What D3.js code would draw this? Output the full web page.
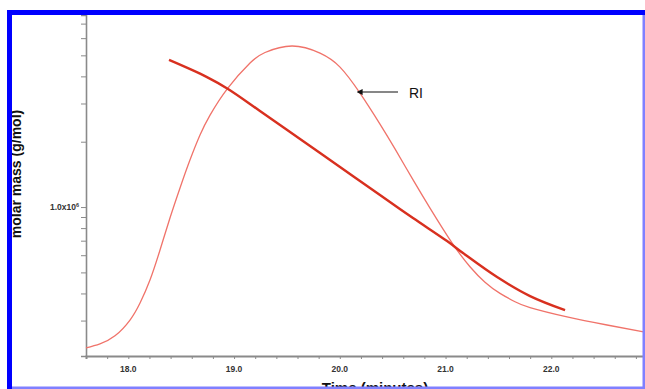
<!DOCTYPE html>
<html>
<head>
<meta charset="utf-8">
<script src="https://cdn.jsdelivr.net/npm/d3@7/dist/d3.min.js"></script>
<style>
  html, body { margin: 0; padding: 0; background: #fff; }
  svg { display: block; font-family: "Liberation Sans", Arial, sans-serif; }
</style>
</head>
<body>
<svg id="chart" width="645" height="389"></svg>
<script>
// RI detector trace (time in minutes, normalised signal 0-100)
const riTime = [17.600, 17.732, 17.874, 18.016, 18.111, 18.205, 18.300, 18.394, 18.489, 18.583, 18.678, 18.773, 18.943, 19.151, 19.293, 19.548, 19.813, 20.002, 20.191, 20.380, 20.522, 20.693, 20.853, 21.061, 21.231, 21.373, 21.515, 21.657, 21.799, 22.149, 22.527, 22.886];
const riSignal = [2.6, 3.9, 6.5, 11.6, 17.1, 24.5, 34.2, 44.5, 54.2, 63.2, 71.3, 77.7, 86.5, 94.5, 97.9, 100, 97.7, 93.2, 84.8, 74.8, 66.8, 56.8, 47.7, 36.5, 28.8, 23.8, 20.2, 17.5, 15.6, 12.6, 10.0, 7.7];

// molar mass across the peak (g/mol)
const mmTime = [18.385, 18.744, 18.943, 19.245, 19.624, 20.002, 20.380, 20.692, 21.014, 21.165, 21.487, 21.799, 22.130];
const mmValue = [4.76e6, 3.97e6, 3.50e6, 2.77e6, 2.06e6, 1.53e6, 1.136e6, 0.890e6, 0.697e6, 0.614e6, 0.476e6, 0.389e6, 0.335e6];

const xTickLabels = [18, 19, 20, 21, 22];
const yLabelValue = 1e6;

const svg = d3.select('#chart');
const plotLeft = 86, plotRight = 645, plotTop = 15, plotBottom = 356;

const x = d3.scaleLinear().domain([17.6, 22.886]).range([plotLeft, plotRight]);
const y = d3.scaleLog().domain([2.06e5, 7.67e6]).range([plotBottom, plotTop]);
const ri = d3.scaleLinear().domain([0, 100]).range([plotBottom, 46]);

const axisColor = '#8a8a8a';

// y axis with log minor ticks
const yTicks = [];
for (let d = 1e5; d < 1e7; d *= 10) for (let k = 1; k <= 9; k++) {
  const v = k * d;
  if (v >= y.domain()[0] && v <= y.domain()[1]) yTicks.push(v);
}
const yAxis = d3.axisLeft(y).tickValues(yTicks).tickSize(5).tickFormat('');
const gy = svg.append('g').attr('transform', `translate(${plotLeft},0)`).call(yAxis);
gy.select('.domain').attr('stroke', axisColor).attr('stroke-width', 1.6);
gy.selectAll('.tick line').attr('stroke', axisColor).attr('stroke-width', 1);

svg.append('text')
  .attr('x', 79).attr('y', y(yLabelValue) + 3)
  .attr('text-anchor', 'end').attr('font-size', 8.5).attr('font-weight', 'bold').attr('fill', '#333')
  .text('1.0x10')
  .append('tspan').attr('font-size', 5.5).attr('dy', -3.5).text('6');

// x axis with 0.2 min minor ticks
const xTicks = d3.range(17.6, 22.9, 0.2).map(v => +v.toFixed(1));
const xAxis = d3.axisBottom(x).tickValues(xTicks).tickSize(3).tickFormat('');
const gx = svg.append('g').attr('transform', `translate(0,${plotBottom})`).call(xAxis);
gx.select('.domain').attr('stroke', axisColor).attr('stroke-width', 2);
gx.selectAll('.tick line').attr('stroke', axisColor).attr('stroke-width', 1);

svg.append('g').selectAll('text').data(xTickLabels).join('text')
  .attr('x', d => x(d)).attr('y', 372)
  .attr('text-anchor', 'middle').attr('font-size', 8.5).attr('font-weight', 'bold').attr('fill', '#333')
  .text(d => d.toFixed(1));

// curves
const riLine = d3.line().x((d, i) => x(riTime[i])).y(d => ri(d)).curve(d3.curveNatural);
svg.append('path').attr('d', riLine(riSignal))
  .attr('fill', 'none').attr('stroke', '#f0736a').attr('stroke-width', 1.3);

const mmLine = d3.line().x((d, i) => x(mmTime[i])).y(d => y(d)).curve(d3.curveCatmullRom);
svg.append('path').attr('d', mmLine(mmValue))
  .attr('fill', 'none').attr('stroke', '#d8301f').attr('stroke-width', 2.4);

// RI annotation
svg.append('defs').append('marker').attr('id', 'head').attr('viewBox', '0 0 10 10')
  .attr('refX', 1).attr('refY', 5).attr('markerWidth', 5).attr('markerHeight', 5).attr('orient', 'auto-start-reverse')
  .append('path').attr('d', 'M0,0 L10,5 L0,10 z').attr('fill', '#111');
svg.append('line').attr('x1', 398).attr('y1', 92).attr('x2', 362).attr('y2', 92)
  .attr('stroke', '#111').attr('stroke-width', 1.2).attr('marker-end', 'url(#head)');
svg.append('text').attr('x', 409).attr('y', 98).attr('font-size', 14).attr('fill', '#111').text('RI');

// axis titles
svg.append('text').attr('transform', 'translate(21,174) rotate(-90)')
  .attr('text-anchor', 'middle').attr('font-size', 14).attr('font-weight', 'bold').attr('fill', '#111')
  .text('molar mass (g/mol)');
svg.append('text').attr('x', 375).attr('y', 393)
  .attr('text-anchor', 'middle').attr('font-size', 15).attr('font-weight', 'bold').attr('fill', '#111')
  .text('Time (minutes)');

// blue frame
svg.append('rect').attr('x', 7).attr('y', 10).attr('width', 638).attr('height', 5).attr('fill', '#0000ff');
svg.append('rect').attr('x', 7).attr('y', 10).attr('width', 5).attr('height', 379).attr('fill', '#0000ff');
svg.append('rect').attr('x', 12).attr('y', 386.5).attr('width', 633).attr('height', 2.5).attr('fill', '#8080ff');
svg.append('rect').attr('x', 642.5).attr('y', 15).attr('width', 2.5).attr('height', 374).attr('fill', '#8080ff');
</script>
</body>
</html>
